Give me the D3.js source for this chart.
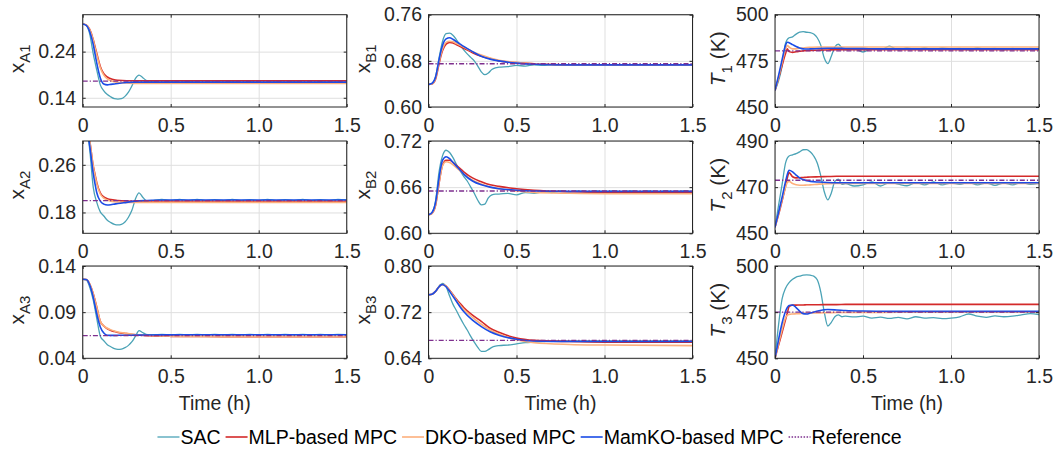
<!DOCTYPE html>
<html>
<head>
<meta charset="utf-8">
<script src="https://cdn.jsdelivr.net/npm/d3@7"></script>
<style>
  body { margin: 0; background: #fff; }
  svg { display: block; font-family: "Liberation Sans", Arial, sans-serif; }
</style>
</head>
<body>
<svg></svg>
<script>
// ---------- data ----------
// time grids in hours
const tCtrl = [0, 0.02, 0.04, 0.06, 0.07, 0.08, 0.10, 0.12, 0.14, 0.16, 0.18, 0.20, 0.25, 0.30, 0.35, 0.40, 0.50, 0.60, 0.80, 1.0, 1.5];
const tSac = [0, 0.02, 0.04, 0.06, 0.08, 0.10, 0.12, 0.14, 0.16, 0.18, 0.20, 0.22, 0.24, 0.26, 0.28, 0.30, 0.32, 0.34, 0.36, 0.38, 0.40,
  0.45, 0.50, 0.55, 0.60, 0.65, 0.70, 0.75, 0.80, 0.85, 0.90, 0.95, 1.00, 1.05, 1.10, 1.15, 1.20, 1.25, 1.30, 1.35, 1.40, 1.45, 1.50];

// panel order: xA1, xB1, T1, xA2, xB2, T2, xA3, xB3, T3
const labelMain = ["x", "x", "T", "x", "x", "T", "x", "x", "T"];
const labelSub = ["A1", "B1", "1", "A2", "B2", "2", "A3", "B3", "3"];
const labelUnit = ["", "", " (K)", "", "", " (K)", "", "", " (K)"];

const yLimits = [[0.12, 0.32], [0.60, 0.76], [450, 500],
                 [0.145, 0.30], [0.60, 0.72], [450, 490],
                 [0.04, 0.14], [0.64, 0.80], [450, 500]];
const yTicks = [[0.14, 0.24], [0.60, 0.68, 0.76], [450, 475, 500],
                [0.18, 0.26], [0.60, 0.66, 0.72], [450, 470, 490],
                [0.04, 0.09, 0.14], [0.64, 0.72, 0.80], [450, 475, 500]];
const yTickLabels = [["0.14", "0.24"], ["0.60", "0.68", "0.76"], ["450", "475", "500"],
                     ["0.18", "0.26"], ["0.60", "0.66", "0.72"], ["450", "470", "490"],
                     ["0.04", "0.09", "0.14"], ["0.64", "0.72", "0.80"], ["450", "475", "500"]];
const xTicks = [0, 0.5, 1.0, 1.5];
const xTickLabels = ["0", "0.5", "1.0", "1.5"];

const refValues = [0.176, 0.675, 480.4, 0.200, 0.655, 473.0, 0.0645, 0.671, 475.0];

// SAC (on tSac)
const sacSeries = [
  [0.300,0.297,0.278,0.235,0.200,0.168,0.155,0.147,0.142,0.138,0.137,0.138,0.143,0.152,0.166,0.182,0.189,0.184,0.178,0.176,0.176,
   0.177,0.176,0.177,0.176,0.177,0.177,0.176,0.177,0.176,0.177,0.176,0.177,0.177,0.176,0.177,0.176,0.177,0.177,0.176,0.177,0.176,0.177],
  [0.639,0.641,0.652,0.685,0.714,0.727,0.728,0.724,0.716,0.707,0.699,0.692,0.686,0.680,0.671,0.661,0.656,0.659,0.665,0.668,0.669,
   0.670,0.672,0.671,0.673,0.672,0.673,0.6725,0.673,0.6725,0.673,0.6725,0.673,0.6725,0.673,0.6725,0.673,0.6725,0.673,0.6725,0.673,0.6725,0.673],
  [458.9,464,472,484.5,487.5,488.0,489.5,490.5,490.8,490.5,490.3,489.5,487.5,483.5,476.5,473.5,477.5,482.5,484.0,482.0,481.0,
   481.5,479.8,481.5,481.0,483.0,481.0,482.0,481.2,482.0,481.0,482.0,481.5,481.8,481.0,482.0,481.3,481.8,481.0,481.8,481.2,481.8,481.5],
  [0.330,0.324,0.285,0.222,0.197,0.181,0.174,0.167,0.163,0.160,0.159,0.160,0.164,0.172,0.184,0.203,0.213,0.206,0.200,0.199,0.200,
   0.202,0.200,0.202,0.200,0.202,0.200,0.2015,0.200,0.202,0.200,0.2015,0.200,0.202,0.200,0.2015,0.200,0.202,0.200,0.2015,0.200,0.202,0.201],
  [0.624,0.627,0.642,0.680,0.701,0.708,0.705,0.698,0.689,0.681,0.674,0.668,0.660,0.652,0.643,0.637,0.638,0.646,0.650,0.651,0.651,
   0.652,0.650,0.653,0.652,0.654,0.653,0.655,0.654,0.655,0.654,0.655,0.654,0.655,0.654,0.655,0.654,0.655,0.654,0.655,0.654,0.655,0.654],
  [452.6,462,471,480.5,483.5,484,484.5,485.3,486.2,486.3,485.3,483.5,480.5,475,468,464.5,467.5,472.5,473.5,471.2,471.5,
   470.5,471.0,472.3,470.5,472.0,471.3,470.6,472.0,471.0,472.3,471.0,471.8,471.2,472.0,471.0,471.8,470.8,471.8,471.0,472.0,471.2,471.6],
  [0.1256,0.1250,0.1170,0.1030,0.0830,0.0640,0.0590,0.0548,0.0525,0.0505,0.0497,0.0500,0.0515,0.0540,0.0580,0.0640,0.0700,0.0680,0.0660,0.0655,0.0655,
   0.0658,0.0652,0.0660,0.0653,0.0658,0.0654,0.0660,0.0653,0.0658,0.0654,0.0659,0.0653,0.0660,0.0654,0.0658,0.0653,0.0660,0.0654,0.0659,0.0653,0.0660,0.0656],
  [0.750,0.751,0.756,0.765,0.770,0.764,0.748,0.733,0.722,0.710,0.699,0.689,0.678,0.668,0.659,0.652,0.652,0.655,0.659,0.661,0.662,
   0.663,0.665,0.667,0.668,0.669,0.670,0.670,0.670,0.670,0.670,0.670,0.670,0.670,0.670,0.670,0.670,0.670,0.670,0.670,0.670,0.670,0.670],
  [450,468,482,488,491,492.8,494,494.5,495,495.2,495,494.5,492.5,486,475,467.5,469.5,472.5,473.5,472.5,472.8,
   472.4,472.8,471.8,472.3,471.6,472.2,471.4,472.5,471.8,472.0,471.5,471.8,472.5,474.0,472.8,472.2,473.0,472.5,472.8,473.5,474.2,473.6]
];

// MLP-based MPC (on tCtrl)
const mlpSeries = [
  [0.300,0.298,0.288,0.266,0.251,0.236,0.208,0.192,0.185,0.181,0.179,0.178,0.177,0.177,0.177,0.177,0.177,0.177,0.177,0.177,0.177],
  [0.639,0.640,0.648,0.675,0.688,0.698,0.709,0.712,0.711,0.708,0.705,0.702,0.694,0.688,0.684,0.680,0.677,0.675,0.673,0.673,0.673],
  [458.9,465.5,472.5,479.0,481.5,480.0,479.6,479.9,480.2,480.4,480.6,480.7,480.8,480.9,481.0,481.0,481.0,481.0,481.0,481.0,481.0],
  [0.330,0.326,0.300,0.258,0.244,0.230,0.213,0.206,0.203,0.2015,0.201,0.200,0.199,0.1988,0.1985,0.1985,0.1985,0.1985,0.1985,0.1985,0.1985],
  [0.624,0.626,0.636,0.665,0.679,0.689,0.695,0.695,0.692,0.688,0.684,0.680,0.672,0.667,0.663,0.661,0.658,0.656,0.654,0.653,0.653],
  [452.6,458,464,470.5,474,476.3,474.5,474.0,474.1,474.2,474.3,474.4,474.5,474.6,474.7,474.7,474.7,474.7,474.7,474.7,474.7],
  [0.1256,0.1254,0.1205,0.1100,0.1030,0.0955,0.0800,0.0750,0.0720,0.0702,0.0690,0.0680,0.0667,0.0655,0.0648,0.0643,0.0638,0.0636,0.0635,0.0634,0.0634],
  [0.750,0.751,0.756,0.764,0.767,0.768,0.765,0.758,0.750,0.742,0.735,0.728,0.715,0.704,0.692,0.685,0.675,0.671,0.669,0.668,0.668],
  [450,457,464,471,474.5,478,478.8,478.8,478.9,478.9,479,479,479,479.1,479.1,479.2,479.2,479.2,479.2,479.2,479.2]
];

// DKO-based MPC (on tCtrl)
const dkoSeries = [
  [0.300,0.298,0.287,0.264,0.248,0.233,0.205,0.189,0.181,0.177,0.175,0.173,0.172,0.171,0.171,0.171,0.171,0.171,0.171,0.171,0.171],
  [0.639,0.640,0.650,0.678,0.691,0.701,0.712,0.714,0.713,0.710,0.707,0.704,0.696,0.690,0.685,0.681,0.677,0.675,0.673,0.673,0.673],
  [458.9,466,474,481.5,483.3,482.5,481.5,481.5,481.8,482.0,482.2,482.3,482.5,482.5,482.5,482.5,482.5,482.5,482.5,482.5,482.5],
  [0.330,0.326,0.300,0.257,0.242,0.228,0.211,0.204,0.201,0.199,0.198,0.1975,0.197,0.197,0.197,0.197,0.197,0.197,0.197,0.197,0.197],
  [0.624,0.626,0.637,0.666,0.679,0.688,0.693,0.692,0.689,0.685,0.681,0.677,0.669,0.664,0.660,0.658,0.655,0.653,0.652,0.6515,0.6515],
  [452.6,458.5,464.5,470.0,472.0,472.5,471.6,471.0,470.8,470.8,470.9,471.0,471.3,471.5,471.6,471.6,471.6,471.6,471.6,471.6,471.6],
  [0.1256,0.1254,0.1205,0.1095,0.1025,0.0950,0.0800,0.0752,0.0725,0.0708,0.0695,0.0685,0.0670,0.0658,0.0650,0.0645,0.0640,0.0637,0.0635,0.0635,0.0635],
  [0.750,0.751,0.756,0.764,0.767,0.768,0.765,0.757,0.749,0.740,0.732,0.725,0.711,0.699,0.689,0.682,0.672,0.667,0.664,0.663,0.662],
  [450,458,465.5,472,473.3,473.8,474.0,474.1,474.2,474.3,474.4,474.5,474.6,474.7,474.8,474.8,474.9,474.9,475,475,475]
];

// MamKO-based MPC (on tCtrl)
const mamSeries = [
  [0.300,0.297,0.283,0.255,0.235,0.215,0.183,0.170,0.168,0.169,0.170,0.171,0.173,0.174,0.174,0.174,0.174,0.174,0.174,0.174,0.174],
  [0.639,0.641,0.652,0.682,0.696,0.707,0.718,0.720,0.717,0.713,0.709,0.705,0.696,0.688,0.683,0.680,0.676,0.674,0.673,0.673,0.673],
  [458.9,467,475.5,483.5,485.1,484.8,483.8,482.8,482.0,481.5,481.4,481.5,481.7,481.8,481.8,481.7,481.6,481.5,481.5,481.5,481.5],
  [0.330,0.325,0.292,0.245,0.228,0.213,0.199,0.194,0.1925,0.193,0.194,0.195,0.197,0.199,0.200,0.2005,0.201,0.201,0.201,0.201,0.201],
  [0.624,0.627,0.640,0.672,0.686,0.695,0.6995,0.697,0.692,0.687,0.682,0.677,0.668,0.663,0.660,0.658,0.656,0.655,0.6545,0.6545,0.6545],
  [452.6,459,465.5,472.5,475.5,477.3,476.6,475.2,474.0,473.3,472.8,472.5,472.2,472.0,471.9,471.9,471.9,471.9,471.9,471.9,471.9],
  [0.1256,0.1253,0.1195,0.1060,0.0970,0.0880,0.0740,0.0675,0.0650,0.0648,0.0648,0.0649,0.0650,0.0651,0.0652,0.0653,0.0654,0.0655,0.0655,0.0655,0.0655],
  [0.750,0.751,0.756,0.764,0.767,0.768,0.764,0.756,0.747,0.738,0.729,0.721,0.706,0.695,0.686,0.680,0.673,0.670,0.669,0.669,0.669],
  [450,460,469,475.5,477.5,478.6,478.9,477.5,475.5,474.2,474.0,474.5,475.8,476.4,476.2,475.9,475.6,475.5,475.4,475.4,475.4]
];

const legendNames = ["SAC", "MLP-based MPC", "DKO-based MPC", "MamKO-based MPC", "Reference"];

// ---------- layout ----------
const width = 1056, height = 451;
const colX = [82.7, 428.5, 775];
const rowY = [14.7, 141, 266];
const pw = 264, ph = 92.3;
const yLabelDx = [-59, -59, -50];
const fontSize = 19.5;
const labelSize = 21;
const ink = "#262626";

const styles = [
  { color: "#4ba3b6", w: 1.3, dash: null },
  { color: "#d42a2a", w: 1.6, dash: null },
  { color: "#fdb07c", w: 1.6, dash: null },
  { color: "#1a4ce6", w: 1.6, dash: null },
  { color: "#7e2f8e", w: 1.3, dash: "5,2,1.2,2" }
];

const svg = d3.select("svg").attr("width", width).attr("height", height);

const x = d3.scaleLinear().domain([0, 1.5]).range([0, pw]);

for (let i = 0; i < 9; i++) {
  const col = i % 3, row = Math.floor(i / 3);
  const g = svg.append("g").attr("transform", `translate(${colX[col]},${rowY[row]})`);
  const y = d3.scaleLinear().domain(yLimits[i]).range([ph, 0]);

  // grid
  g.append("g").attr("class", "grid")
    .call(d3.axisLeft(y).tickValues(yTicks[i]).tickSize(-pw).tickFormat(""))
    .call(a => a.select(".domain").remove());
  g.append("g").attr("class", "grid")
    .attr("transform", `translate(0,${ph})`)
    .call(d3.axisBottom(x).tickValues(xTicks).tickSize(-ph).tickFormat(""))
    .call(a => a.select(".domain").remove());
  g.selectAll(".grid line").attr("stroke", "#dfdfdf").attr("stroke-width", 1);

  // lines
  const clipId = "clip" + i;
  g.append("clipPath").attr("id", clipId)
    .append("rect").attr("width", pw).attr("height", ph);
  const plot = g.append("g").attr("clip-path", `url(#${clipId})`);
  const line = d3.line().x(d => x(d[0])).y(d => y(d[1])).curve(d3.curveMonotoneX);

  const seriesList = [
    tSac.map((t, k) => [t, sacSeries[i][k]]),
    tCtrl.map((t, k) => [t, mlpSeries[i][k]]),
    tCtrl.map((t, k) => [t, dkoSeries[i][k]]),
    tCtrl.map((t, k) => [t, mamSeries[i][k]]),
    [[0, refValues[i]], [1.5, refValues[i]]]
  ];
  seriesList.forEach((s, k) => {
    plot.append("path")
      .attr("d", line(s))
      .attr("fill", "none")
      .attr("stroke", styles[k].color)
      .attr("stroke-width", styles[k].w)
      .attr("stroke-dasharray", styles[k].dash);
  });

  // axes (ticks inward)
  const ax = g.append("g").attr("transform", `translate(0,${ph})`)
    .call(d3.axisBottom(x).tickValues(xTicks).tickFormat((d, k) => xTickLabels[k])
      .tickSizeInner(-3).tickSizeOuter(0).tickPadding(11));
  const ay = g.append("g")
    .call(d3.axisLeft(y).tickValues(yTicks[i]).tickFormat((d, k) => yTickLabels[i][k])
      .tickSizeInner(-3).tickSizeOuter(0).tickPadding(6.5));
  g.append("g").call(d3.axisTop(x).tickValues(xTicks).tickFormat("").tickSizeInner(-3).tickSizeOuter(0));
  g.append("g").attr("transform", `translate(${pw},0)`)
    .call(d3.axisRight(y).tickValues(yTicks[i]).tickFormat("").tickSizeInner(-3).tickSizeOuter(0));
  g.selectAll(".domain").remove();
  g.selectAll(".tick line").filter(function () { return !this.closest(".grid"); })
    .attr("stroke", ink);
  [ax, ay].forEach(a => a.attr("font-size", fontSize)
    .attr("font-family", '"Liberation Sans", Arial, sans-serif')
    .selectAll("text").attr("fill", ink));

  // box
  g.append("rect").attr("width", pw).attr("height", ph)
    .attr("fill", "none").attr("stroke", ink).attr("stroke-width", 1);

  // y label
  const lab = g.append("text")
    .attr("transform", `translate(${yLabelDx[col]},${ph / 2 - 2}) rotate(-90)`)
    .attr("text-anchor", "middle")
    .attr("font-size", labelSize)
    .attr("fill", ink);
  lab.append("tspan").text(labelMain[i])
    .attr("font-style", labelMain[i] === "T" ? "italic" : "normal");
  lab.append("tspan").text(labelSub[i]).attr("font-size", 15).attr("dy", 6.5);
  if (labelUnit[i]) lab.append("tspan").text(labelUnit[i]).attr("dy", -6.5);

  // x label on bottom row
  if (row === 2) {
    g.append("text")
      .attr("x", pw / 2).attr("y", ph + 51.5)
      .attr("text-anchor", "middle")
      .attr("font-size", fontSize)
      .attr("fill", ink)
      .text("Time (h)");
  }
}

// ---------- legend ----------
const legend = svg.append("g");
let lx = 0;
legendNames.forEach((name, k) => {
  const item = legend.append("g").attr("transform", `translate(${lx},0)`);
  item.append("line")
    .attr("x1", 0).attr("x2", 22).attr("y1", 0).attr("y2", 0)
    .attr("stroke", styles[k].color).attr("stroke-width", styles[k].w)
    .attr("stroke-dasharray", k === 4 ? "1.5,1.5" : null);
  const txt = item.append("text")
    .attr("x", 23).attr("y", 7)
    .attr("font-size", fontSize).attr("fill", "#000")
    .text(name);
  lx += 23 + txt.node().getComputedTextLength() + 5;
});
legend.attr("transform", `translate(${532 - lx / 2},437)`);
</script>
</body>
</html>
